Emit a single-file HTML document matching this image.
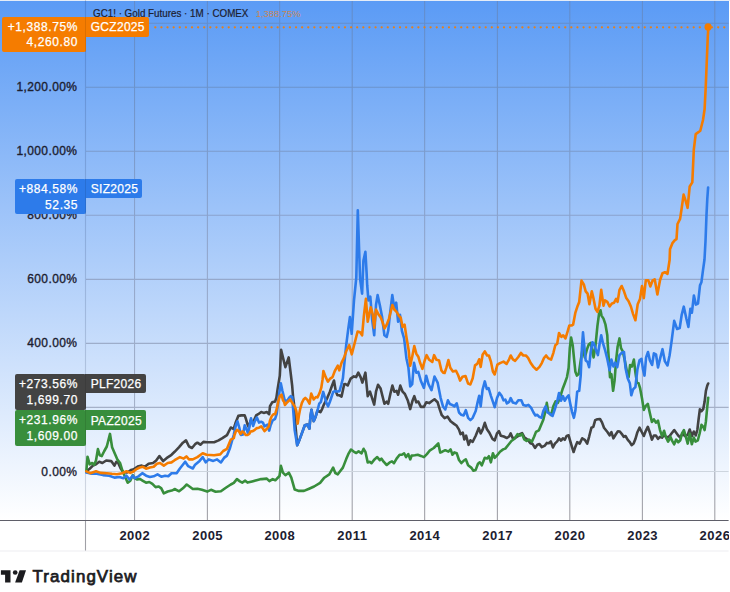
<!DOCTYPE html>
<html><head><meta charset="utf-8"><title>chart</title>
<style>
html,body{margin:0;padding:0;background:#fff;}
body{width:730px;height:592px;position:relative;overflow:hidden;font-family:"Liberation Sans",sans-serif;}
#bg{position:absolute;left:0;top:1px;width:728.6px;height:519px;background:linear-gradient(to bottom,#5b9bf5 0%,#ffffff 100%);}
#top{position:absolute;left:0;top:0;width:730px;height:1px;background:#e4ecf7;}
svg{position:absolute;left:0;top:0;}
.yl{position:absolute;left:0;width:77.4px;text-align:right;font-size:12px;line-height:16px;color:#1c2030;letter-spacing:.4px;-webkit-text-stroke:.35px #1c2030;}
.xl{position:absolute;top:527.5px;width:60px;text-align:center;font-size:13px;line-height:16px;font-weight:bold;color:#1c2030;letter-spacing:.5px;text-indent:.5px;}
.tag{position:absolute;color:#fff;font-size:12px;line-height:15.5px;border-radius:2px;box-sizing:border-box;letter-spacing:.3px;-webkit-text-stroke:.25px #fff;white-space:nowrap;}
.tag.v{text-align:right;padding:3.1px 7.9px 0 0;letter-spacing:.6px;}
.tag.n{padding:3.2px 0 0 5.7px;border-radius:0 2px 2px 0;}
#hdr{position:absolute;left:93.3px;top:8.2px;font-size:10.3px;line-height:12px;color:#1c2030;white-space:nowrap;transform:scaleX(.953);transform-origin:0 0;z-index:3;-webkit-text-stroke:.2px #1c2030;}
#hdr span{-webkit-text-stroke:0;color:rgba(245,124,0,.7);margin-left:7.6px;font-size:9.9px;}
.ax{position:absolute;left:85px;width:1.1px;background:rgba(0,0,0,.1);z-index:2;}
#tv{position:absolute;left:32.6px;top:565.9px;font-size:16.9px;line-height:22px;font-weight:normal;color:#1c1c1f;letter-spacing:1.09px;white-space:nowrap;-webkit-text-stroke:.75px #1c1c1f;}
</style></head><body>
<div id="top"></div><div id="bg"></div>
<svg width="730" height="592" viewBox="0 0 730 592">
<defs><linearGradient id="gg" gradientUnits="userSpaceOnUse" x1="0" y1="0" x2="0" y2="520"><stop offset="0" stop-color="#618ccc"/><stop offset="0.167" stop-color="#6c93cb"/><stop offset="0.475" stop-color="#91a6cc"/><stop offset="0.8" stop-color="#a6b2c8"/><stop offset="0.9" stop-color="#a6acb9"/><stop offset="0.98" stop-color="#a2a2a8"/><stop offset="1" stop-color="#a2a2a8"/></linearGradient></defs>
<g stroke-width="1.1"><line x1="134.55" y1="1" x2="134.55" y2="520" stroke="url(#gg)"/><line x1="207.40" y1="1" x2="207.40" y2="520" stroke="url(#gg)"/><line x1="279.65" y1="1" x2="279.65" y2="520" stroke="url(#gg)"/><line x1="352.20" y1="1" x2="352.20" y2="520" stroke="url(#gg)"/><line x1="424.65" y1="1" x2="424.65" y2="520" stroke="url(#gg)"/><line x1="497.40" y1="1" x2="497.40" y2="520" stroke="url(#gg)"/><line x1="569.80" y1="1" x2="569.80" y2="520" stroke="url(#gg)"/><line x1="642.40" y1="1" x2="642.40" y2="520" stroke="url(#gg)"/><line x1="714.80" y1="1" x2="714.80" y2="520" stroke="url(#gg)"/><line x1="86" y1="471.5" x2="728.6" y2="471.5" stroke="#cdd5de"/><line x1="86" y1="407.4" x2="728.6" y2="407.4" stroke="#a5b1c8"/><line x1="86" y1="343.4" x2="728.6" y2="343.4" stroke="#9dadca"/><line x1="86" y1="279.4" x2="728.6" y2="279.4" stroke="#95a8cb"/><line x1="86" y1="215.3" x2="728.6" y2="215.3" stroke="#8aa2cc"/><line x1="86" y1="151.2" x2="728.6" y2="151.2" stroke="#7b9bcb"/><line x1="86" y1="87.2" x2="728.6" y2="87.2" stroke="#6c93cb"/><line x1="86" y1="23.2" x2="728.6" y2="23.2" stroke="#648ecc"/></g>
<line x1="85.5" y1="0" x2="85.5" y2="520" stroke="rgba(15,35,80,.17)" stroke-width="1.1"/>
<line x1="85.5" y1="520" x2="85.5" y2="551" stroke="#a0a0a6" stroke-width="1.1"/>
<line x1="0" y1="520.45" x2="728.6" y2="520.45" stroke="#5f5f69" stroke-width="1.1"/>
<line x1="0" y1="551" x2="728.6" y2="551" stroke="#eeeef1" stroke-width="1.2"/>
<line x1="155.3" y1="27.35" x2="728.6" y2="27.35" stroke="#f57c00" stroke-opacity=".9" stroke-width="2.3" stroke-linecap="round" stroke-dasharray="0.01 6.108"/>
<g fill="none" stroke-width="2.6" stroke-linejoin="round" stroke-linecap="round"><path d="M86.3,471.3 L89.7,468.7 L92.9,465.6 L96,464.3 L99.2,461.8 L102.4,463 L106.2,460.5 L111.2,461.1 L114.4,465.6 L116.3,461.8 L118.2,463 L120.8,468.7 L123.3,472.1 L127.1,472.5 L130.9,470 L132.8,469.4 L134.7,468.7 L138.5,466.2 L141.7,465.6 L144.8,466.8 L148.6,463.7 L153.1,463 L156.2,460.5 L159.4,456.1 L163.2,461.1 L167.7,457.3 L171.5,454.8 L174.6,451.8 L179.1,447.2 L182.9,442.7 L186,440.4 L189,446.5 L192,448 L195.1,444.2 L197.4,442.7 L200.4,444.7 L203.4,441.9 L207.2,442.2 L214.1,442.2 L218.6,440.4 L222.4,438.1 L227,435.1 L230.8,427.5 L232,428.1 L233.7,429 L235.8,422.2 L238.3,415.9 L241.3,415.4 L244.7,415.4 L245.9,418.8 L247.6,424.7 L248.9,427.3 L250.6,420.5 L253.1,422.2 L256.1,415.4 L258.2,414.2 L261.2,412 L263.7,412.9 L266.7,412 L269.2,414.2 L270,406.1 L272.2,402.3 L275.1,401.5 L276.4,397.7 L277.6,389.2 L279.8,375.6 L281.1,349.8 L283.1,358.1 L285.4,367.2 L288.7,357.4 L290.9,375 L292.2,386 L293,396.1 L293.9,402.9 L295,420 L297.2,445.3 L299.8,438.9 L302.3,432.1 L304.8,425.3 L307.4,424.5 L309.4,428.7 L310.4,417.3 L311.5,409.7 L312.5,415.6 L313.7,421.1 L315.4,417.3 L317.5,410.5 L320.5,412.2 L322.2,408.8 L323.9,404.6 L327.3,397.8 L329.8,391.9 L331.9,386 L334,380.5 L334.9,386 L335.7,391 L337.4,395.3 L339.5,395.3 L341.5,396.6 L342.9,390.2 L344.2,384.3 L345.4,384 L347.7,385.5 L350.7,378.6 L353.8,376.4 L356.1,377.1 L358.3,372.6 L360.6,377.1 L362.4,382.6 L365.4,372.7 L367.7,396.2 L370,391.7 L374.2,404.6 L376,391.7 L378,384.8 L380.6,388.6 L384.4,403.8 L386.7,401.6 L388.2,403.8 L390.5,393.2 L392.4,385.6 L394.3,391.7 L396.6,390.9 L398.1,394.7 L400.3,385.6 L402.6,391.7 L404.9,394 L407.9,400.8 L410.2,409.1 L412.5,400.8 L414.3,396.2 L416.3,402.3 L418.3,401.6 L420.9,406.9 L423.9,406.9 L426.2,402.3 L429.2,403.1 L432.3,400.8 L434.5,399.3 L437.6,402.3 L439.9,409.9 L441.8,415.2 L444.6,418.2 L447.6,416.7 L450.6,421.3 L453.7,423.6 L456.7,425.8 L459,429.6 L460.5,434.2 L462.8,432.7 L464.3,439.5 L466.1,435.7 L468.6,444.8 L470.4,440.3 L472.7,441.8 L475.7,435.7 L478.8,428.1 L480.7,433.4 L482.6,429.6 L484.8,422.8 L486.8,428.9 L489.4,432.7 L492.4,438.8 L494.7,440.3 L497,433.4 L499,431.2 L500.8,435.7 L503.8,436.5 L506.9,438 L509.1,436.5 L510.7,433.4 L512.6,438 L515.2,438 L517.5,436.5 L519.8,434.2 L522.1,433.1 L524.3,437.2 L527.4,439.5 L530.4,443.3 L532.7,444.1 L535,447.9 L537.3,444.8 L539.5,444.1 L541.8,447.1 L544.9,445.6 L546.8,442.9 L548.8,443.3 L550.8,441.4 L552.9,447.4 L554.9,443.6 L557.2,441.4 L559,438.3 L561,440.6 L562.9,438.3 L564.8,439.8 L566.6,436 L568.6,435.3 L570.1,440.6 L572.1,447.4 L573.6,452 L575.4,446.7 L577.2,442.1 L579.7,443.6 L582.2,438.3 L584.8,439.8 L587.2,443.6 L589.1,436.8 L591.4,427.7 L593.3,426.9 L595.2,420.1 L597.4,419.3 L600,419 L602,422.4 L604,427.7 L605.8,430 L607.6,432.2 L609.6,435.3 L611.4,432.2 L613.4,438.3 L615.7,434.5 L617.9,431.2 L619.8,431.5 L621.7,433.8 L623.7,436.8 L625.5,436 L627.8,439.8 L629.8,442.1 L631.6,445.2 L633.6,443.6 L635.4,439.1 L637.4,432.2 L639.5,427.7 L641.5,431.5 L643.8,436 L645.8,430.8 L647.8,426.8 L649.9,432.8 L651.9,439.6 L653.9,435.5 L655.9,435.5 L658,438.9 L660,436.9 L662,437.6 L664.1,434.9 L666.8,437.6 L669.5,436.2 L671.5,433.5 L674.2,430.1 L676.2,432.8 L678.2,435.5 L680.3,437.6 L682.3,433.5 L685,436.2 L687.7,434.9 L689.7,429.5 L691.8,436.2 L693.8,431.5 L695.8,435.5 L697.4,429.5 L698.5,420 L699.9,409.2 L701.5,411.2 L703.2,409.2 L704.6,401.8 L705.9,390.9 L707.3,385.5 L708.2,383.5" stroke="#434343"/><path d="M86.3,471.9 L87.5,456.7 L89.7,464.3 L92.2,463 L94.1,464.9 L96,460.5 L97.9,449.1 L99.8,455.4 L101.7,456.1 L104.3,451 L106.8,446.5 L110,433.9 L112.1,447.2 L115.1,454.2 L117.6,459.9 L120.1,463 L122,469.4 L124.6,475.7 L127.7,482.7 L130.3,480.8 L132.8,475.1 L134.7,478.2 L137.2,479.5 L139.8,478.9 L142.9,480.8 L146.1,482.7 L149.3,482 L152.4,483.9 L155.6,487.1 L158.8,486.5 L161.3,488.4 L163.8,493.4 L167.7,491.5 L172.7,490.3 L174.6,489 L179.1,491.3 L182.9,488.3 L186.7,484.5 L189.8,486.7 L192.8,489 L197.4,488.7 L201.9,489.8 L207.2,491.6 L211,489.8 L215.6,491.8 L220.9,491.3 L226.2,487.5 L230.8,484.5 L233.8,482.9 L236.9,479.1 L239.9,481.4 L242.2,482.6 L245.2,480.7 L247.5,482.6 L252.1,481.4 L256.6,480.2 L261.2,479.1 L261.8,479.1 L266.8,478.6 L269.4,481.1 L272.7,479.1 L275.3,480.3 L279.5,476 L280.9,465.9 L282.9,472.7 L285.4,475.2 L288.8,472.7 L291.3,477.7 L294.7,489.6 L298.9,490.9 L304,490.9 L309.1,488.7 L314.1,486.5 L320.1,482.8 L324.3,477.7 L329.3,474.3 L333.1,467.6 L335.3,473 L337.8,474.3 L340.3,471 L342.9,467.6 L346.2,459.1 L348.7,453.3 L351,449.5 L354,451.8 L356.3,453 L358.6,451.3 L361.6,453.3 L363.6,448.8 L365.4,451.8 L367.7,462.4 L369.7,461.7 L371.5,463.2 L374.5,459.4 L377.2,457.1 L379.8,460.2 L381.4,458.6 L383.6,461.7 L386.7,465 L389.7,462.4 L392,461.4 L394,463.2 L396.6,458.6 L399.6,454.8 L401.9,454.8 L404.1,453.3 L406.1,457.1 L408.3,454.1 L410.2,459.4 L411.7,455.6 L414.8,455.3 L417.8,454.8 L420.9,455.9 L423.9,457.1 L426.9,454.1 L430,450.3 L433.8,448 L438.3,443.4 L440.2,452.6 L442.3,451.7 L445.3,450.2 L448.4,451.7 L450.6,449.4 L452.5,454.7 L454.4,452.4 L456.7,453.2 L459,460 L461.3,463.1 L463.6,460.8 L465.8,459.3 L468.1,465.3 L471.2,467.6 L473.4,470.7 L475.7,469.9 L478,463.8 L479.8,462.3 L481.8,465.3 L484.8,457.8 L487.1,458.5 L488.9,456.2 L490.9,462.3 L492.9,453.2 L494.7,457.8 L497,455.5 L500,451.7 L503.1,449.4 L505.3,448.6 L508.4,444.8 L511.4,441 L514.5,438.8 L517.5,434.2 L519.8,435.7 L522.1,434.2 L524.3,439.5 L526.6,441 L528.9,439.5 L531.9,441.8 L534.2,436.5 L536,431.9 L538.8,430.4 L541.1,425.1 L543.3,419.8 L545.6,410.6 L546.8,402.9 L548.3,412.1 L551.1,415.1 L553.4,406 L555.6,401.4 L557.9,402.9 L560.2,396.9 L562.5,389.3 L564.8,383.2 L567,377.1 L568.6,368 L569.8,348.2 L571.1,337.6 L572.7,345.2 L574.2,360.4 L575.4,371.8 L576.9,375.6 L578.7,374.1 L580.7,360.4 L582.7,348.2 L584.8,357.4 L586.8,349.8 L588.8,344.4 L590.6,342.9 L592.1,349.8 L593.6,357.4 L595.5,345.2 L595.9,341.4 L597.4,326.2 L599,314.1 L600.5,310.3 L601.5,315.6 L603.5,318.6 L605.5,324.7 L607.3,335.3 L607.6,342.2 L608.8,358.9 L610,377.1 L611.4,374.1 L613.1,390.8 L614.6,380.2 L616.1,360.4 L617.6,346.7 L619.5,338.4 L621,348.2 L622.8,351.3 L624.8,360.4 L627.1,372.6 L628.6,377.1 L630.1,365 L631.9,366.5 L633.9,359.6 L635.4,372.6 L636.9,382.4 L638.5,383.2 L640,387.8 L642,398.4 L643.8,409.9 L645.8,405.8 L647.8,403.8 L649.9,413.2 L651.9,422 L653.9,419.3 L655.9,422.7 L658,420.7 L660,430.1 L662,436.2 L664.1,430.8 L665.8,436.9 L668.1,441.6 L670.4,436.9 L672.2,440.9 L674.2,444.3 L676.2,439.6 L678.2,442.3 L680.3,440.3 L682,433.5 L683.9,430.1 L685.7,436.2 L687.7,443.6 L689.7,433.5 L691.8,444.3 L693.8,437.6 L695.5,441.6 L697.8,440.3 L699.6,433.5 L701.5,424.7 L703.2,426.8 L704.6,430.1 L705.9,421.4 L707.3,406.5 L708.2,397.7" stroke="#388e3c"/><path d="M86.3,472.5 L91.6,473.8 L96.7,473.8 L103,475.1 L109.3,475.7 L114.4,477.6 L119.5,477 L123.3,478.2 L126.5,475.7 L129.6,479.5 L132.8,475.7 L134.7,478.2 L138.5,476.3 L142.3,473.2 L146.1,475.7 L149.9,477 L153.7,476.3 L157.5,474.4 L161.3,476.7 L165.1,475.7 L168.3,476.3 L171.5,473.2 L176.8,473.1 L179.9,468.5 L185.2,461.7 L188.2,466.2 L192.8,468.5 L195.1,464.7 L199.6,460.9 L202.7,457.1 L205.7,462.4 L208.8,459.4 L213.3,460.9 L217.1,459.4 L220.9,462.4 L224,457.9 L227,455.6 L230,448 L233.7,435 L235.8,425.6 L237.5,421.3 L239.2,427.3 L240.9,434.9 L243,434.5 L244.7,425.2 L246.4,429 L248.1,433.6 L251,418.4 L253.1,426 L254.8,421.3 L256.9,417.5 L259,422.6 L261.2,421.8 L262.9,422.6 L264.5,426.4 L265.8,425.6 L267.5,424.7 L269.2,430.6 L270.5,425.6 L272.6,420.5 L275.1,418.8 L276.8,413.7 L278.1,401.9 L279.3,392.6 L280.8,383.2 L282.4,390.8 L284.6,399.9 L286.9,401.4 L289.2,397.6 L290.7,396.1 L292.2,396.9 L294.7,430.4 L297.2,445.3 L299.8,438.9 L302.3,432.1 L304.8,425.3 L307.4,424.5 L309.4,428.7 L310.4,417.3 L311.5,409.7 L312.5,415.6 L313.7,421.1 L315.4,417.3 L317.5,410.5 L319.2,403.7 L320.9,402 L322.2,396.1 L323.2,391.9 L324.7,397 L326.4,402.9 L328.1,406.3 L329.8,402 L331.5,397 L333.2,391.9 L334.9,391.1 L337.4,391.5 L339.5,391.1 L341.2,385.1 L342.9,378.4 L343.9,368 L346.2,345.2 L348.4,327.8 L349.9,317.1 L351.7,333.8 L354,300.4 L356.3,277.6 L357.8,210.3 L360.1,279.1 L362.1,293.6 L363.4,260.8 L365.4,251.7 L366.6,272.9 L367.2,285.2 L368.4,300.4 L370.3,296.6 L372.2,320.2 L374.2,335.3 L376,305 L377.6,295.1 L379.8,305 L382.1,317.1 L384.4,335.3 L386.7,336.9 L388.2,330.8 L390,314.1 L392.3,295.1 L394.3,308 L396.2,302.7 L398.1,321.7 L400,314.8 L401.9,330.8 L404.1,338.4 L406.4,358.2 L408.4,367.4 L410.2,386.4 L412.2,384.1 L414,362.8 L416.3,372.7 L418.3,371.9 L420.9,381 L423.9,387.9 L426.2,375.7 L428.5,384.1 L431.5,390.2 L434.5,376.5 L437.6,382.6 L440.6,397.8 L443,406.4 L445.3,409.5 L447.9,400.3 L449.9,404.1 L452.2,404.9 L454.4,406.4 L456.7,403.4 L459,412.5 L461.3,414.8 L463.6,415.5 L465.8,410.2 L468.1,417.8 L470.4,420.1 L472.7,417.8 L475.7,411 L477.7,401.9 L479.2,395.8 L480.7,406.4 L482.6,389.7 L484.8,381.4 L486.8,389 L488.6,388.2 L490.9,395.8 L493.2,402.6 L494.7,407.2 L497,398.1 L499.3,392.8 L501.6,395.8 L503.5,400.3 L505.3,399.6 L506.9,403.4 L509.1,401.9 L510.7,398.1 L512.9,402.6 L516,403.4 L518.3,400.3 L521.3,400.3 L523.3,404.9 L525.9,405.7 L528.4,404.9 L531.2,407.9 L533.5,412.5 L535.4,415.5 L537.3,414.8 L539.5,417.1 L541.5,417.8 L543.3,411 L545.6,406.4 L547.3,412.1 L549.6,413.6 L552.6,415.9 L554.9,409 L557.2,401.4 L559,393.1 L561,400.7 L562.9,396.1 L564.8,400.7 L566.6,397.6 L568.6,395.3 L570.1,402.9 L572.1,412.1 L573.9,417.8 L575.4,410.5 L577.2,391.6 L579.2,390.8 L580.7,375.6 L581.9,348.2 L583,332.3 L584.2,345.2 L585.7,360.4 L587.6,361.9 L589.1,367.2 L590.6,352.8 L592.4,342.2 L593.9,343.7 L595.9,349.8 L597.9,355.1 L599.4,345.2 L601.2,335.3 L603.1,343.7 L605,349.8 L607.3,358.9 L609.6,370.3 L611.4,359.6 L613.4,366.5 L615.2,362.7 L617.2,367.2 L619.5,355.1 L621.7,352.8 L624,352 L625.5,368 L627.8,378.6 L629.8,383.2 L631.3,395.3 L633.1,389.3 L635.4,387 L637.4,369.5 L639.5,360.4 L641.5,358.9 L643,369.5 L644.5,375.6 L646.1,357.4 L648,352 L649.9,360.4 L652.1,365 L653.9,353.3 L656,354.3 L658,367.5 L660.4,357.4 L662.5,349.2 L664.9,361.4 L667.5,365.5 L669.6,355.3 L671.6,341.1 L674.2,320.9 L677.1,329 L679.7,328 L681.7,314.8 L683.8,306.7 L686.4,318.8 L688.4,326.9 L690.4,308.7 L691.9,312.7 L693.9,295.5 L695.9,304.6 L698,303.6 L700,285.4 L701.4,282.3 L703,270.1 L704.5,259.5 L705.5,241.2 L706.5,214.9 L707.3,198.7 L708.1,187.5" stroke="#2d7bea"/><path d="M86.3,471.3 L90.3,473.2 L96,471.3 L100.5,472.9 L106.8,473.2 L111.9,473.8 L117,474.2 L122,473.2 L126.5,471.3 L130.3,472.9 L132.8,471.9 L136,469.4 L139.8,467.5 L142.9,466.8 L146.1,468.7 L149.9,467.5 L153.7,466.8 L156.9,463.7 L160,463 L163.8,465.6 L167.7,463 L171.5,462.4 L174.6,460.2 L179.9,457.1 L183.7,458.6 L186.4,456.4 L189,459.4 L192.8,459.4 L197.4,457.1 L202.7,453.3 L206.5,454.8 L214.1,455.3 L220.2,454.4 L223.2,451 L227,448.8 L230.8,439.6 L233.8,438.1 L234.5,435 L235.8,431.5 L237.1,429.8 L238.8,431.1 L240.5,434 L242.1,431.5 L243.8,432.3 L245.5,434.9 L247.6,435 L249.3,434 L250.6,431.5 L252.7,431.1 L254.8,429.8 L256.9,428.1 L259,427.7 L261.2,426.4 L262.9,428.5 L264.5,431.1 L266.7,429 L268.8,426.4 L270,420.5 L271.7,416.3 L273.4,414.2 L275.1,414.2 L276.8,408.7 L278.1,401.9 L279.8,396 L281.5,394.7 L283.1,400.6 L283.9,401.4 L285,405 L287.5,402 L290.1,399.5 L291.8,402 L293.5,404.6 L295.1,407.1 L296.4,411.3 L297.7,423.6 L298.9,415.6 L300.2,408.8 L301.9,402.9 L303.6,399.5 L305.3,397.8 L307.4,399.9 L309.5,403.7 L311.2,393.6 L313.7,399.5 L315.9,397 L317.5,397.4 L319.7,392.8 L321.3,387.7 L322.6,379.2 L323.4,371 L325.7,377.1 L327.9,381.7 L330.2,378.6 L332.5,377.1 L334.8,371 L337.8,365.7 L339.3,370.3 L341.6,362.7 L343.9,358.1 L346.2,351.3 L349.2,345.2 L351.8,354.3 L354.5,343.7 L357.6,331.5 L360.1,332.3 L362.1,335.3 L363.9,315.6 L365.9,298.9 L367.7,321.7 L370.7,307.2 L372.7,314.1 L374.2,327.8 L376,309.5 L378.3,314.1 L380.6,317.1 L382.4,321.7 L384.4,328.5 L386.7,324.7 L389,318.6 L390.9,311 L392.4,305 L394.3,309.5 L396.6,311.8 L398.8,315.6 L400.8,317.9 L402.6,327 L404.6,324.7 L406.4,336.9 L408.7,350.5 L410.2,365.8 L412.2,356.7 L414.3,346.1 L416.3,353.7 L418.3,356.7 L420.1,362.8 L422.4,368.9 L424.7,360.5 L426.6,355.2 L429.2,359.8 L432.3,362 L434.1,355.2 L436.5,359.8 L439.1,360.5 L441.4,370.4 L443.2,372.7 L444.6,373 L446.4,367.7 L448.4,360.1 L450.3,367.7 L452.9,371.5 L456,370.7 L458.2,375.3 L460.1,380.6 L462.5,376.8 L465.5,376 L468.1,383.6 L470.4,384.4 L472.7,378.3 L475,365.4 L477.2,363.9 L479.2,359.3 L480.7,366.9 L482.6,354.8 L484.8,351.4 L487.1,355.5 L488.9,355.5 L490.9,361.6 L492.9,371.5 L494.7,374.5 L497.4,364.6 L500,363.1 L503.5,361.6 L506.6,363.9 L509.1,359.3 L510.7,355.5 L512.9,359.3 L515.2,360.8 L518.3,357 L520.9,352.9 L523.3,355.5 L525.9,355.5 L528.1,357.8 L530.4,362.4 L533.5,366.9 L536.5,369.7 L539.5,366.9 L541.8,363.1 L544.1,357.8 L546.1,355.5 L548,358.1 L551.1,359.6 L553.4,352.8 L555.3,345.2 L557.2,343.7 L559,333 L561.4,336.9 L563.2,335.3 L565.5,338.4 L567.8,330.8 L569.3,325.5 L571.6,325.5 L573.1,324.7 L575.4,312.6 L577.7,305.7 L579.2,301.9 L581.5,280.6 L583.8,284.4 L585.7,291.3 L587.6,293.6 L589.4,304.2 L591.8,291.3 L593.6,298.9 L595.5,308.8 L597.4,311.8 L599.4,305.7 L601.2,289.8 L603.5,305.7 L605,300.4 L607.3,301.9 L609.6,306.5 L611.9,303.4 L614.1,302.7 L616.1,298.9 L617.6,301.9 L619.5,289.8 L621.7,286 L624,291.3 L626.3,298.1 L628.6,301.2 L630.9,306.5 L633.1,314.1 L635.4,320.2 L637.7,304.2 L640,298.9 L642,286 L643.8,298.1 L645.8,280.3 L648.3,280.3 L650.3,286.4 L652.7,280.3 L654.7,279.3 L657.4,294.5 L660,280.3 L662.5,273.2 L664.9,272.2 L667.5,273.8 L669.6,260 L670,249.3 L672.4,243.2 L674.9,240.2 L676.5,239.2 L677.5,224 L680.1,218.9 L681.6,208.8 L683.6,194.6 L685.6,200.7 L687.6,207.8 L689.7,186.5 L692.3,182.4 L693.8,149.7 L695.7,134.1 L700.3,130.8 L703,120 L704.6,109.2 L705.7,87.6 L706.8,60.5 L707.8,36.2 L708.4,27.3" stroke="#f57c00"/></g>
<circle cx="708.1" cy="26.9" r="3.6" fill="#f57c00"/>
<g fill="#1c1c1f"><path d="M0.9,570.2H10.5V582.5H5.1V574.8H0.9Z"/><circle cx="15.2" cy="572.5" r="2.35"/><path d="M19.6,570.2H26L21.9,582.5H15.1Z"/></g>
</svg>
<div class="yl" style="top:463.5px">0.00%</div><div class="yl" style="top:335.4px">400.00%</div><div class="yl" style="top:271.4px">600.00%</div><div class="yl" style="top:207.3px">800.00%</div><div class="yl" style="top:143.2px">1,000.00%</div><div class="yl" style="top:79.2px">1,200.00%</div><div style="position:absolute;left:0;top:0;width:728.6px;height:560px;overflow:hidden"><div class="xl" style="left:104.6px">2002</div><div class="xl" style="left:177.4px">2005</div><div class="xl" style="left:249.6px">2008</div><div class="xl" style="left:322.2px">2011</div><div class="xl" style="left:394.6px">2014</div><div class="xl" style="left:467.4px">2017</div><div class="xl" style="left:539.8px">2020</div><div class="xl" style="left:612.4px">2023</div><div class="xl" style="left:684.8px">2026</div></div>
<div id="hdr">GC1! · Gold Futures · 1M · COMEX<span>1,388.75%</span></div>
<div class="tag v" style="left:2px;top:16.9px;width:84px;height:35.4px;background:#f57c00">+1,388.75%<br>4,260.80</div>
<div class="tag n" style="left:85px;top:16.9px;width:63.9px;height:19.8px;background:#f57c00">GCZ2025</div>
<div class="tag v" style="left:15px;top:179.1px;width:71px;height:35.3px;background:#2d7bea">+884.58%<br>52.35</div>
<div class="tag n" style="left:85px;top:179.1px;width:57px;height:19.2px;background:#2d7bea">SIZ2025</div>
<div class="tag v" style="left:15px;top:374.2px;width:71px;height:35.9px;background:#434343">+273.56%<br>1,699.70</div>
<div class="tag n" style="left:85px;top:374.2px;width:60.8px;height:19.2px;background:#434343">PLF2026</div>
<div class="tag v" style="left:15px;top:410.4px;width:71px;height:35.3px;background:#388e3c">+231.96%<br>1,609.00</div>
<div class="tag n" style="left:85px;top:410.4px;width:60.8px;height:19.2px;background:#388e3c">PAZ2025</div>
<div class="ax" style="top:16.9px;height:35.4px"></div><div class="ax" style="top:179.1px;height:35.3px"></div><div class="ax" style="top:374.2px;height:71.5px"></div>
<div id="tv">TradingView</div>
</body></html>
